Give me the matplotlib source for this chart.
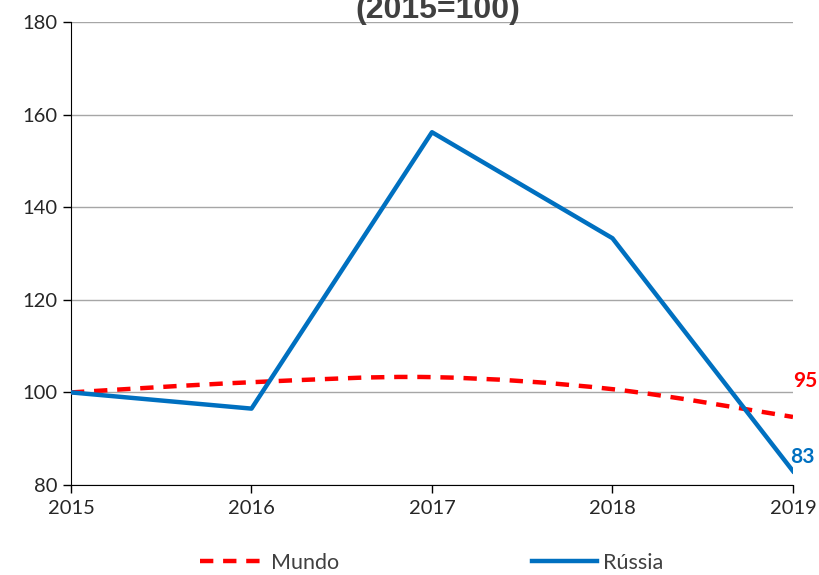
import numpy as np
import matplotlib.pyplot as plt
from matplotlib.path import Path
from matplotlib.patches import PathPatch

anos = [2015, 2016, 2017, 2018, 2019]
mundo = [100, 102.2, 103.3, 100.7, 94.7]
russia = [100, 96.5, 156.2, 133.3, 83.0]

plt.rcParams['font.family'] = ['Lato', 'DejaVu Sans']

fig = plt.figure(figsize=(8.19, 5.75), dpi=100)
ax = fig.add_axes([0.0867, 0.1565, 0.8815, 0.8052])

# linha suavizada do Mundo (curva tipo Excel, feita com Bezier sobre os pontos)
x = np.array(anos, dtype=float)
y = np.array(mundo, dtype=float)
verts = [(x[0], y[0])]
codes = [Path.MOVETO]
for i in range(len(x) - 1):
    p0 = (x[i - 1], y[i - 1]) if i > 0 else (x[i], y[i])
    p3 = (x[i + 2], y[i + 2]) if i + 2 < len(x) else (x[i + 1], y[i + 1])
    c1 = (x[i] + (x[i + 1] - p0[0]) / 6, y[i] + (y[i + 1] - p0[1]) / 6)
    c2 = (x[i + 1] - (p3[0] - x[i]) / 6, y[i + 1] - (p3[1] - y[i]) / 6)
    verts += [c1, c2, (x[i + 1], y[i + 1])]
    codes += [Path.CURVE4] * 3
ax.add_patch(PathPatch(Path(verts, codes), fill=False, edgecolor='#FF0000',
                       lw=3.2, linestyle=(0, (3, 2.2)), zorder=3))
ax.plot([], [], color='#FF0000', lw=3.2, linestyle=(0, (3, 2.2)), label='Mundo')

ax.plot(anos, russia, color='#0070C0', lw=3.2, label='Rússia', zorder=4)

ax.set_xlim(2015, 2019)
ax.set_ylim(80, 180)
ax.set_yticks(range(80, 181, 20))
ax.set_xticks(anos)
ax.grid(axis='y', color='#A6A6A6', lw=1)
ax.set_axisbelow(True)
for s in ['top', 'right']:
    ax.spines[s].set_visible(False)
ax.tick_params(labelsize=14.5, labelcolor='#262626', length=6, width=1,
               color='black')
ax.tick_params(axis='x', pad=5)

ax.text(2019.0, 102.5, f'{mundo[-1]:.0f}', color='#FF0000',
        fontsize=15, fontweight='bold', ha='left', va='center',
        clip_on=False)
ax.text(2018.985, 86, f'{russia[-1]:.0f}', color='#0070C0',
        fontsize=15, fontweight='bold', ha='left', va='center',
        clip_on=False)

# título cortado no topo, como no original
fig.text(0.535, 0.9687, '(2015=100)', ha='center', va='baseline',
         fontsize=23, fontweight='bold', color='#404040',
         family='Liberation Sans')

fig.legend(loc='lower center', bbox_to_anchor=(0.527, -0.03), ncol=2,
           frameon=False, fontsize=15.5, columnspacing=9.0, handlelength=3.0,
           handletextpad=0.3, labelcolor='#404040')

fig.savefig('out.png', dpi=100)
